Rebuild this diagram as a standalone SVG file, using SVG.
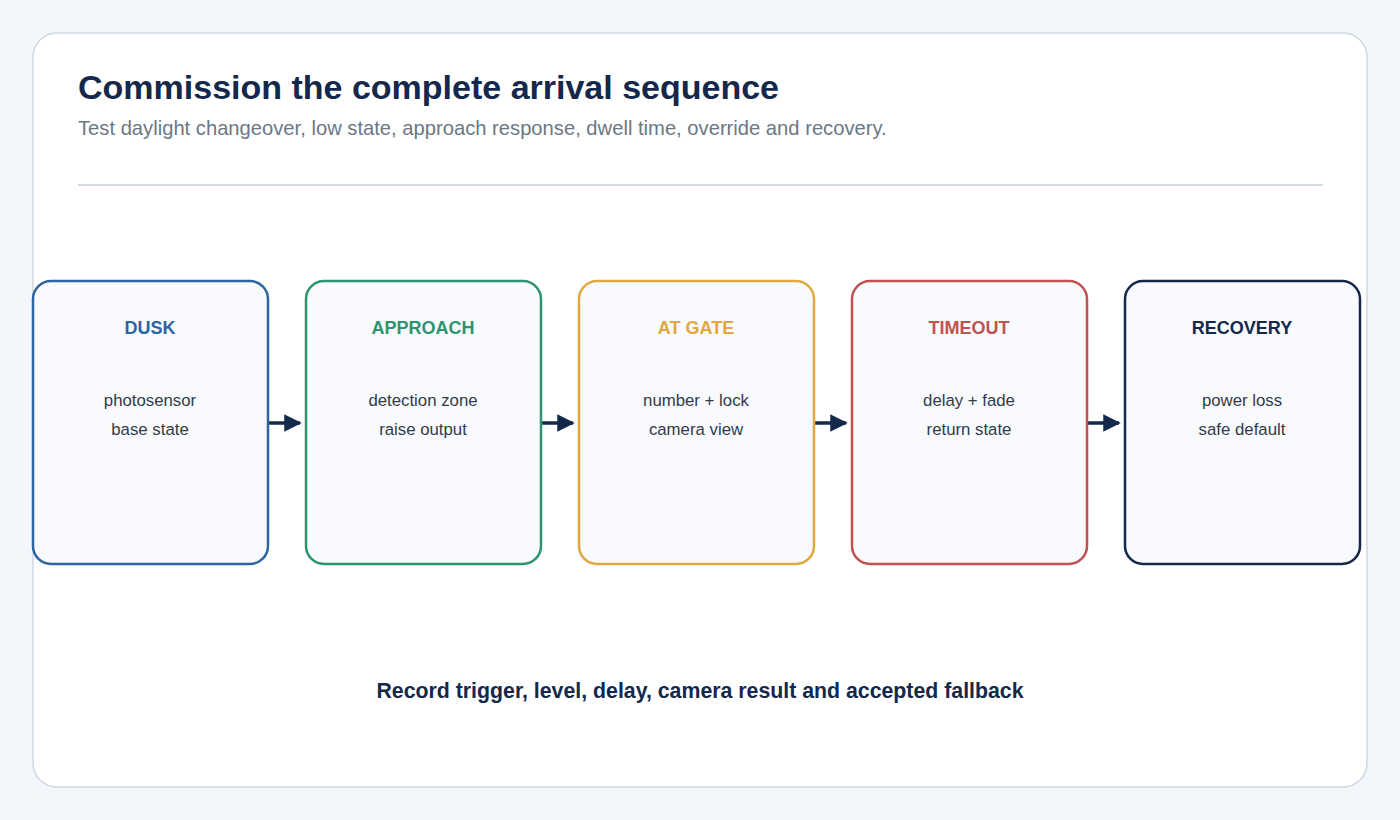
<svg xmlns="http://www.w3.org/2000/svg" width="1400" height="820" viewBox="0 0 1400 820">
<style>
.node{fill:#f8fafd;stroke-width:2.5}
.nt{font-family:"Liberation Sans",Arial,sans-serif;font-size:18px;font-weight:bold;text-anchor:middle}
.nb{font-family:"Liberation Sans",Arial,sans-serif;font-size:16.8px;fill:#333b48;text-anchor:middle}
.conn{stroke:#14284b;stroke-width:3.5;fill:none}
</style>
<defs>
<marker id="ah" markerWidth="5" markerHeight="5" refX="4.5" refY="2.5" orient="auto" markerUnits="strokeWidth">
<path d="M0,0 L5,2.5 L0,5 Z" fill="#14284b"/>
</marker>
</defs>
<rect width="1400" height="820" fill="#f3f6fa"/>
<rect x="33" y="33" width="1334" height="754" rx="24" fill="#ffffff" stroke="#cfd8e3" stroke-width="1.5"/>
<text x="78" y="99" font-family="'Liberation Sans',Arial,sans-serif" font-size="34" font-weight="bold" fill="#14284b">Commission the complete arrival sequence</text>
<text x="78" y="135" font-family="'Liberation Sans',Arial,sans-serif" font-size="20.2" fill="#6b7785">Test daylight changeover, low state, approach response, dwell time, override and recovery.</text>
<line x1="78" y1="185" x2="1323" y2="185" stroke="#d3dae3" stroke-width="2"/>
<g id="connectors">
<line class="conn" x1="268" y1="423" x2="300" y2="423" marker-end="url(#ah)"/>
<line class="conn" x1="541" y1="423" x2="573" y2="423" marker-end="url(#ah)"/>
<line class="conn" x1="814" y1="423" x2="846" y2="423" marker-end="url(#ah)"/>
<line class="conn" x1="1087" y1="423" x2="1119" y2="423" marker-end="url(#ah)"/>
</g>
<g id="dusk">
<rect class="node" x="33" y="281" width="235" height="283" rx="18" stroke="#2e64a0"/>
<text class="nt" x="150" y="334" fill="#2e64a0">DUSK</text>
<text class="nb" x="150" y="406">photosensor</text>
<text class="nb" x="150" y="435">base state</text>
</g>
<g id="approach">
<rect class="node" x="306" y="281" width="235" height="283" rx="18" stroke="#2e9470"/>
<text class="nt" x="423" y="334" fill="#2e9470">APPROACH</text>
<text class="nb" x="423" y="406">detection zone</text>
<text class="nb" x="423" y="435">raise output</text>
</g>
<g id="atgate">
<rect class="node" x="579" y="281" width="235" height="283" rx="18" stroke="#e0a840"/>
<text class="nt" x="696" y="334" fill="#e0a840">AT GATE</text>
<text class="nb" x="696" y="406">number + lock</text>
<text class="nb" x="696" y="435">camera view</text>
</g>
<g id="timeout">
<rect class="node" x="852" y="281" width="235" height="283" rx="18" stroke="#c05252"/>
<text class="nt" x="969" y="334" fill="#c05252">TIMEOUT</text>
<text class="nb" x="969" y="406">delay + fade</text>
<text class="nb" x="969" y="435">return state</text>
</g>
<g id="recovery">
<rect class="node" x="1125" y="281" width="235" height="283" rx="18" stroke="#14284b"/>
<text class="nt" x="1242" y="334" fill="#14284b">RECOVERY</text>
<text class="nb" x="1242" y="406">power loss</text>
<text class="nb" x="1242" y="435">safe default</text>
</g>
<text x="700" y="698" text-anchor="middle" font-family="'Liberation Sans',Arial,sans-serif" font-size="21.3" font-weight="bold" fill="#14284b">Record trigger, level, delay, camera result and accepted fallback</text>
</svg>
